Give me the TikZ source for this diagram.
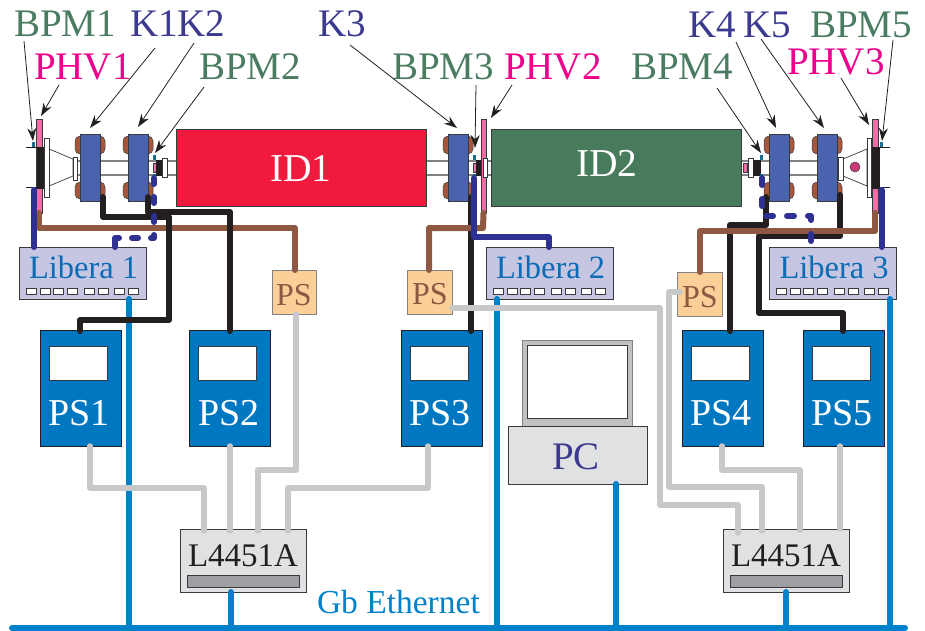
\documentclass[tikz,border=0pt]{standalone}
\usepackage{fontspec}
\setmainfont{Liberation Serif}
\usetikzlibrary{arrows.meta}
\definecolor{grn}{HTML}{4A7C62}
\definecolor{pnk}{HTML}{EC008C}
\definecolor{vio}{HTML}{3B3A8F}
\definecolor{edge}{HTML}{3A3A3C}
\definecolor{idred}{HTML}{EF1A3C}
\definecolor{idgrn}{HTML}{487A5C}
\definecolor{magblue}{HTML}{4A63AE}
\definecolor{coil}{HTML}{A6573A}
\definecolor{barpink}{HTML}{EE6FA8}
\definecolor{lib}{HTML}{C6C6E2}
\definecolor{libtxt}{HTML}{0B6CB5}
\definecolor{psblue}{HTML}{0078C1}
\definecolor{psor}{HTML}{FDCF98}
\definecolor{brn}{HTML}{8E5842}
\definecolor{navy}{HTML}{2E3192}
\definecolor{wblk}{HTML}{231F20}
\definecolor{wgry}{HTML}{C6C8CA}
\definecolor{wblu}{HTML}{0081C9}
\definecolor{lgry}{HTML}{E0E1E3}
\definecolor{mgry}{HTML}{C0C1C3}
\definecolor{dgry}{HTML}{9D9FA2}
\definecolor{pipeg}{HTML}{808285}
\definecolor{teal}{HTML}{1A6F8F}
\definecolor{dotred}{HTML}{C93A78}
\newcommand\fsz[1]{\fontsize{#1}{#1}\selectfont}
\newcommand\pxbox[6]{%
  \pgfmathsetmacro\bw{#4-#2}\pgfmathsetmacro\bh{#5-#3}%
  \pgfmathsetmacro\cxx{(#2+#4)/2}\pgfmathsetmacro\cyy{(#3+#5)/2}%
  \node[#6,minimum width=\bw pt,minimum height=\bh pt,inner sep=0pt,outer sep=0pt] (#1) at (\cxx,\cyy) {};}
\newcommand\callout[3]{%
  \coordinate (#1s) at (#2);\coordinate (#1e) at (#3);\draw[callarrow] (#1s) -- (#1e);}
\newcommand\magnet[2]{% name, left x
  \pgfmathsetmacro\aa{#2-5}\pgfmathsetmacro\ab{#2+25}\pgfmathsetmacro\ac{#2+20}%
  \pxbox{#1ct}{\aa}{136}{\ab}{154}{coilbox}
  \pxbox{#1cb}{\aa}{182}{\ab}{199}{coilbox}
  \pxbox{#1}{#2}{134}{\ac}{201}{magbox}}
\newcommand\libera[3]{% name,left x,text
  \pgfmathsetmacro\ad{#2+127}%
  \pxbox{#1}{#2}{247}{\ad}{299}{libbox}
  \foreach \pp/\po in {a/7,b/21,c/34,d/48,e/65,f/79,g/95,h/109}{%
    \pgfmathsetmacro\pa{#2+\po}\pgfmathsetmacro\pb{#2+\po+10}%
    \pxbox{#1\pp}{\pa}{288}{\pb}{294}{portbox}}
  \pgfmathsetmacro\ae{#2+10}%
  \node[txt,font=\fsz{32.5},text=libtxt] (#1t) at (\ae,278) {#3};}
\newcommand\psunit[3]{% name,left x,text x
  \pgfmathsetmacro\af{#2+81}\pgfmathsetmacro\ag{#2+9}\pgfmathsetmacro\ah{#2+67}%
  \pxbox{#1}{#2}{330}{\af}{446}{psbox}
  \pxbox{#1w}{\ag}{346}{\ah}{380}{winbox}
  \node[txt,font=\fsz{38},text=white] (#1t) at (#3,425) {#1};}
\newcommand\lbox[2]{% name,left x
  \pgfmathsetmacro\ai{#2+126}\pgfmathsetmacro\aj{#2+7}\pgfmathsetmacro\ak{#2+119}\pgfmathsetmacro\al{#2+8}%
  \pxbox{#1}{#2}{529}{\ai}{592}{lgbox}
  \pxbox{#1b}{\aj}{575}{\ak}{587}{barbox}
  \node[txt,font=\fsz{33},text=wblk] (#1t) at (\al,566) {L4451A};}
\tikzset{
  txt/.style={anchor=base west,inner sep=0pt,outer sep=0pt},
  lab/.style={txt,font=\fsz{39}},
  callarrow/.style={draw=wblk,line width=.8pt,-{Stealth[length=13pt,width=9pt]}},
  coilbox/.style={draw=edge,line width=.5pt,fill=coil,rectangle,rounded corners=5pt},
  magbox/.style={draw=edge,line width=.8pt,fill=magblue,rectangle},
  libbox/.style={draw=edge,line width=.8pt,fill=lib,rectangle},
  portbox/.style={draw=edge,line width=.7pt,fill=white,rectangle},
  psbox/.style={draw=wblk,line width=.8pt,fill=psblue,rectangle},
  winbox/.style={draw=edge,line width=.8pt,fill=white,rectangle},
  lgbox/.style={draw=edge,line width=.8pt,fill=lgry,rectangle},
  barbox/.style={draw=edge,line width=.8pt,fill=dgry,rectangle},
  smallps/.style={draw=pipeg,line width=.9pt,fill=psor,rectangle},
  plate/.style={draw=edge,line width=.7pt,fill=white,rectangle},
  blackpart/.style={draw=wblk,line width=.5pt,fill=wblk,rectangle},
  pinkbar/.style={draw=edge,line width=.8pt,fill=barpink,rectangle},
  btn/.style={draw=none,fill=teal,rectangle},
  pipeline/.style={draw=pipeg,line width=1.1pt},
  wire/.style={line width=6pt,line cap=round,line join=round},
  wblkw/.style={wire,draw=wblk},
  wbrn/.style={wire,draw=brn},
  wnav/.style={wire,draw=navy},
  wdashl/.style={wire,draw=navy,dash pattern=on 6pt off 13pt on 6pt off 13pt on 6pt off 13pt on 6pt off 13pt on 6pt off 13pt on 13pt off 100pt},
  wdashr/.style={wire,draw=navy,dash pattern=on 7pt off 14pt},
  wgr/.style={wire,line width=5.5pt,draw=wgry},
  wbl/.style={wire,draw=wblu},
}
\begin{document}
\begin{tikzpicture}[x=1pt,y=-1pt]
\useasboundingbox (0,0) rectangle (925,630);
% beam pipes
\fill[white] (77,161) rectangle (176,175);
\draw[pipeline] (77,161) -- (176,161) (77,175) -- (176,175);
\draw[pipeline] (426,161) -- (491,161) (426,175) -- (491,175);
\draw[pipeline] (741,161) -- (838,161) (741,175) -- (838,175);
% undulators
\pxbox{IDa}{176}{129}{426}{206}{draw=edge,line width=.9pt,fill=idred,rectangle}
\pxbox{IDb}{491}{129}{741}{206}{draw=edge,line width=.9pt,fill=idgrn,rectangle}
\node[txt,font=\fsz{39.5},text=white] (IDat) at (270,181) {ID1};
\node[txt,font=\fsz{39.5},text=white] (IDbt) at (576,176) {ID2};
% left end
\draw[edge,line width=.7pt,fill=white] (49,149) -- (73,159) -- (73,176) -- (49,186) -- cycle;
\pxbox{PHVa}{36}{119}{42}{213}{pinkbar}
\pxbox{FLaa}{37}{147}{45}{188}{blackpart}
\pxbox{FLab}{44}{138}{49}{197}{plate}
\pxbox{FLac}{73}{157}{77}{180}{plate}
\draw[wblk,line width=.8pt] (26,147) -- (37,147) (26,187) -- (37,187);
\pxbox{BAt}{32}{142}{35}{147}{btn}
\pxbox{BAb}{32}{187}{35}{190}{btn}
% magnets
\magnet{Ka}{80}
\magnet{Kb}{128}
\magnet{Kc}{448}
\magnet{Kd}{769}
\magnet{Ke}{817}
% BPM2
\pxbox{BBp}{153}{163}{156}{172}{pinkbar}
\pxbox{BBk}{156}{160}{163}{175}{blackpart}
\pxbox{BBf}{162}{158}{167}{177}{plate}
\pxbox{BBt}{152.5}{155}{155.5}{160}{btn}
\pxbox{BBd}{152.5}{174}{155.5}{178}{btn}
% BPM3 + PHV2
\pxbox{BCp}{473}{163}{476}{172}{pinkbar}
\pxbox{BCk}{476}{160}{483}{175}{blackpart}
\pxbox{PHVb}{481}{119}{486}{213}{pinkbar}
\pxbox{BCf}{483}{158}{487}{177}{plate}
\pxbox{BCt}{472.5}{155}{475.5}{160}{btn}
\pxbox{BCd}{472.5}{174}{475.5}{178}{btn}
% BPM4
\pxbox{BDp}{743}{163}{747}{172}{pinkbar}
\pxbox{BDf}{748}{158}{753}{177}{plate}
\pxbox{BDk}{753}{160}{760}{175}{blackpart}
\pxbox{BDt}{760}{155}{763}{160}{btn}
\pxbox{BDd}{760}{174}{763}{178}{btn}
% right end
\draw[edge,line width=.7pt,fill=white] (867,149) -- (843,159) -- (843,176) -- (867,186) -- cycle;
\pxbox{FLdc}{838}{157}{843}{180}{plate}
\node[circle,draw=edge,line width=.5pt,fill=dotred,minimum size=10pt,inner sep=0pt] (Cdot) at (855,167) {};
\pxbox{FLdb}{867}{138}{871}{197}{plate}
\pxbox{PHVc}{872}{119}{878}{213}{pinkbar}
\pxbox{FLda}{872}{147}{879}{188}{blackpart}
\draw[wblk,line width=.8pt] (879,147) -- (890,147) (879,187) -- (890,187);
\pxbox{BEt}{880}{142}{883}{147}{btn}
\pxbox{BEb}{880}{187}{883}{190}{btn}
% Libera units
\libera{La}{19}{Libera 1}
\libera{Lb}{486}{Libera 2}
\libera{Lc}{769.5}{Libera 3}
% small PS
\pxbox{SPa}{272}{270}{316}{314}{smallps}
\pxbox{SPb}{407}{270}{452}{314}{smallps}
\pxbox{SPc}{677}{272}{722}{316}{smallps}
\node[txt,font=\fsz{32},text=brn] (SPat) at (276,305) {PS};
\node[txt,font=\fsz{32},text=brn] (SPbt) at (412,304) {PS};
\node[txt,font=\fsz{32},text=brn] (SPct) at (682,307) {PS};
% power supplies
\psunit{PS1}{40}{48}
\psunit{PS2}{189.5}{198}
\psunit{PS3}{401}{409}
\psunit{PS4}{682}{690}
\psunit{PS5}{803}{811}
% PC
\pxbox{PCm}{522}{340}{632}{426}{draw=pipeg,line width=.9pt,fill=mgry,rectangle}
\pxbox{PCs}{527}{345}{627}{418}{winbox}
\pxbox{PC}{508}{426}{647}{484}{lgbox}
\node[txt,font=\fsz{39},text=vio] (PCt) at (552,469) {PC};
% digitisers
\lbox{LGa}{180}
\lbox{LGb}{723}
% Ethernet
\coordinate (busL) at (12,628);
\coordinate (busR) at (905,628);
\draw[wbl] (129,299) -- (129,628);
\draw[wbl] (231,592) -- (231,628);
\draw[wbl] (497,299) -- (497,628);
\draw[wbl] (616,484) -- (616,628);
\draw[wbl] (786,592) -- (786,628);
\draw[wbl] (890,299) -- (890,628);
\draw[wbl] (busL) -- (busR);
\node[txt,font=\fsz{33.5},text=wblu] (GbE) at (317,613) {Gb Ethernet};
% brown left, black wires, brown others
\draw[wbrn] (PHVa.south) -- (39,228) -- (295,228) -- (295,270);
\draw[wblkw] (103,197) -- (103,217) -- (169,217) -- (169,320) -- (80,320) -- (80,331);
\draw[wblkw] (148,197) -- (148,212) -- (230,212) -- (230,331);
\draw[wblkw] (471,197) -- (471,331);
\draw[wblkw] (766,197) -- (766,225) -- (730,225) -- (730,331);
\draw[wblkw] (840,195) -- (840,236) -- (759,236) -- (759,313) -- (843,313) -- (843,331);
\draw[wbrn] (PHVb.south) -- (483,228) -- (429,228) -- (429,270);
\draw[wbrn] (875,213) -- (875,231) -- (700,231) -- (700,272);
% navy
\draw[wnav] (34,190) -- (34,247);
\draw[wnav] (474,178) -- (474,237) -- (549,237) -- (549,247);
\draw[wnav] (881.5,190) -- (881.5,247);
\draw[wdashl] (154,178) -- (154,238) -- (115,238) -- (115,247);
\draw[wdashr] (762,178) -- (762,216) -- (811,216) -- (811,247);
% grey
\draw[wgr] (90,446) -- (90,488) -- (204,488) -- (204,531);
\draw[wgr] (230,446) -- (230,531);
\draw[wgr] (296,314) -- (296,470) -- (258,470) -- (258,531);
\draw[wgr] (428,446) -- (428,488) -- (288,488) -- (288,531);
\draw[wgr] (452,308) -- (660,308) -- (660,505) -- (738,505) -- (738,533);
\draw[wgr] (680,292) -- (669,292) -- (669,487) -- (762,487) -- (762,531);
\draw[wgr] (722,446) -- (722,470) -- (800,470) -- (800,530);
\draw[wgr] (840,446) -- (840,529);
% labels
\node[lab,text=grn] (tBa) at (14,36) {BPM1};
\node[lab,text=vio] (tKab) at (130,36) {K1K2};
\node[lab,text=vio] (tKc) at (318,36) {K3};
\node[lab,text=pnk] (tPa) at (34,79) {PHV1};
\node[lab,text=grn] (tBb) at (199,79) {BPM2};
\node[lab,text=grn] (tBc) at (392,79) {BPM3};
\node[lab,text=pnk] (tPb) at (504,79) {PHV2};
\node[lab,text=grn] (tBd) at (631,79) {BPM4};
\node[lab,text=vio] (tKd) at (688,37) {K4};
\node[lab,text=vio] (tKe) at (743,37) {K5};
\node[lab,text=grn] (tBe) at (810,37) {BPM5};
\node[lab,text=pnk] (tPc) at (787,74) {PHV3};
% callouts
\callout{cBa}{24,41}{33,141}
\callout{cPa}{59,85}{41,116}
\callout{cKa}{155,48}{90,128}
\callout{cKb}{194,43}{138,127}
\callout{cBb}{204,87}{155,153}
\callout{cKc}{350,45}{457,128}
\callout{cBc}{476,85}{475,148}
\callout{cPb}{512,85}{491,118}
\callout{cBd}{717,88}{761,153}
\callout{cKd}{736,42}{776,128}
\callout{cKe}{761,39}{824,128}
\callout{cPc}{841,78}{869,125}
\callout{cBe}{893,40}{882,141}
\end{tikzpicture}
\end{document}
